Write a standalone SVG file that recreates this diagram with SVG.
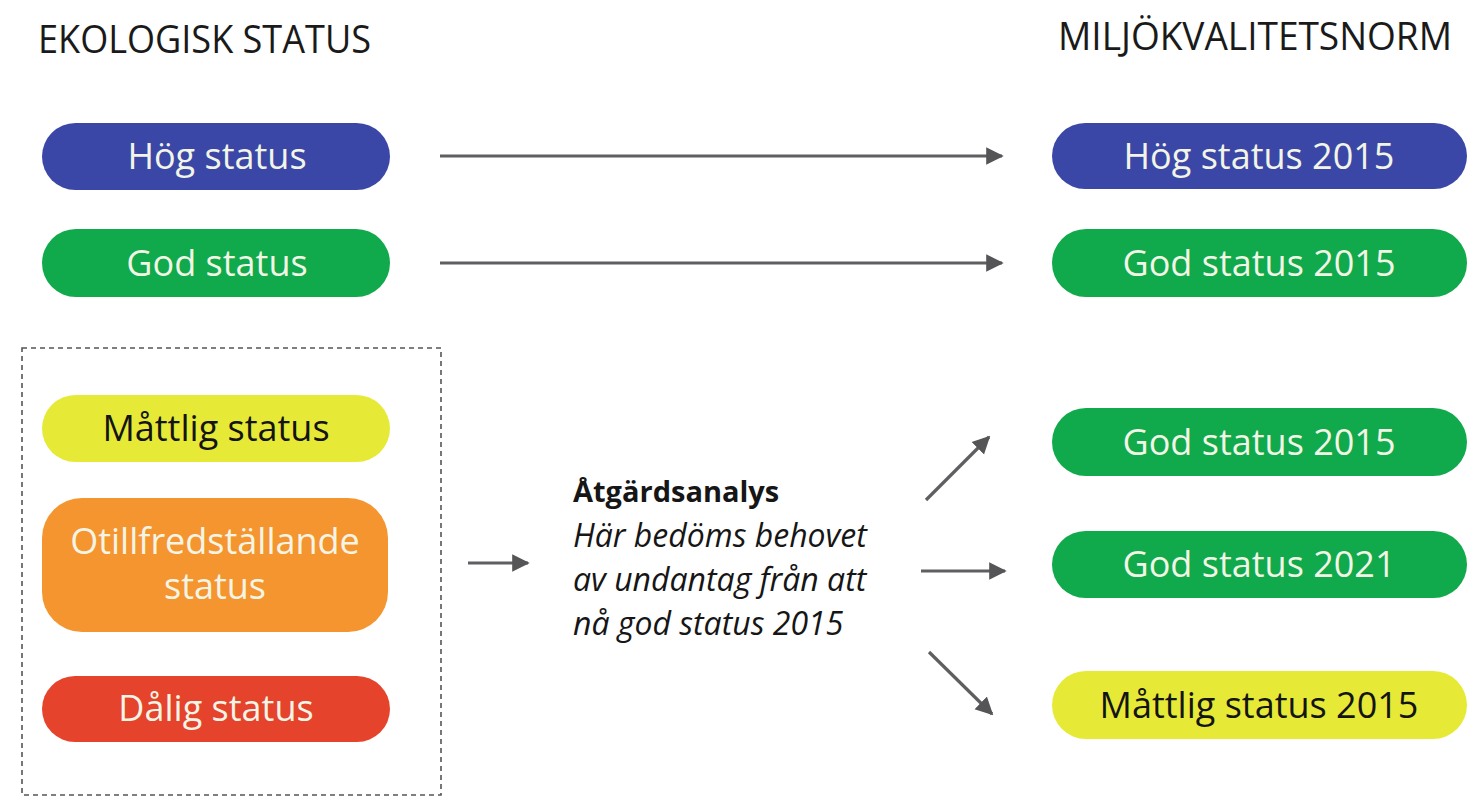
<svg xmlns="http://www.w3.org/2000/svg" width="1470" height="809" viewBox="0 0 1470 809">
<style>
.hdr{font-family:"Open Sans","Liberation Sans",sans-serif;font-size:38px;fill:#1a1a1a}
.pl{font-family:"Open Sans","Liberation Sans",sans-serif;font-size:36px;text-anchor:middle}
.w{fill:#f2f5e6}
.k{fill:#141414}
.blue{fill:#3b47a6}
.green{fill:#10a94b}
.yellow{fill:#e6ea37}
.orange{fill:#f5952f}
.red{fill:#e5432b}
.conn line{stroke:#5f5f62;stroke-width:3.2}
.body{font-family:"Open Sans","Liberation Sans",sans-serif;font-size:29px;fill:#161616}
.it{font-size:32px;font-style:italic}
</style>
<defs>
<marker id="ah" viewBox="0 0 10 10" refX="9" refY="5" markerWidth="5.5" markerHeight="8" orient="auto" markerUnits="strokeWidth">
<path d="M0,0 L10,5 L0,10 Z" fill="#555558"/>
</marker>
</defs>
<rect width="1470" height="809" fill="#ffffff"/>
<text class="hdr" x="38" y="53" textLength="333" lengthAdjust="spacingAndGlyphs">EKOLOGISK STATUS</text>
<text class="hdr" x="1058" y="50" textLength="394" lengthAdjust="spacingAndGlyphs">MILJÖKVALITETSNORM</text>
<rect id="box" x="22" y="348" width="419" height="447" fill="none" stroke="#555" stroke-width="1.6" stroke-dasharray="5,4"/>
<g id="hog-left"><rect class="blue" x="42" y="123" width="348" height="67" rx="33.5"/><text class="pl w" x="217" y="169">Hög status</text></g>
<g id="god-left"><rect class="green" x="42" y="229" width="348" height="68" rx="34"/><text class="pl w" x="217" y="276">God status</text></g>
<g id="mattlig-left"><rect class="yellow" x="42" y="395" width="348" height="67" rx="33.5"/><text class="pl k" x="216" y="441">Måttlig status</text></g>
<g id="otillfreds-left"><rect class="orange" x="42" y="498" width="346" height="134" rx="40"/><text class="pl w" x="215" y="554">Otillfredställande</text><text class="pl w" x="215" y="599">status</text></g>
<g id="dalig-left"><rect class="red" x="42" y="676" width="348" height="66" rx="33"/><text class="pl w" x="216" y="721">Dålig status</text></g>
<g id="hog-right"><rect class="blue" x="1052" y="123" width="415" height="66" rx="33"/><text class="pl w" x="1259" y="169">Hög status 2015</text></g>
<g id="god-right"><rect class="green" x="1052" y="229" width="415" height="68" rx="34"/><text class="pl w" x="1259" y="276">God status 2015</text></g>
<g id="god2015"><rect class="green" x="1052" y="408" width="415" height="68" rx="34"/><text class="pl w" x="1259" y="455">God status 2015</text></g>
<g id="god2021"><rect class="green" x="1052" y="531" width="415" height="67" rx="33.5"/><text class="pl w" x="1259" y="577">God status 2021</text></g>
<g id="mattlig2015"><rect class="yellow" x="1052" y="671" width="415" height="68" rx="34"/><text class="pl k" x="1259" y="718">Måttlig status 2015</text></g>
<g id="atgard">
<text class="body" x="573" y="502" font-weight="bold">Åtgärdsanalys</text>
<text class="body it"><tspan x="573" y="547">Här bedöms behovet</tspan><tspan x="573" y="591">av undantag från att</tspan><tspan x="573" y="635">nå god status 2015</tspan></text>
</g>
<g class="conn" id="connectors">
<line x1="440" y1="156" x2="1002" y2="156" marker-end="url(#ah)"/>
<line x1="440" y1="263" x2="1002" y2="263" marker-end="url(#ah)"/>
<line x1="468" y1="563" x2="528" y2="563" marker-end="url(#ah)"/>
<line x1="926" y1="500" x2="989" y2="437" marker-end="url(#ah)"/>
<line x1="921" y1="571" x2="1005" y2="571" marker-end="url(#ah)"/>
<line x1="929" y1="652" x2="992" y2="714" marker-end="url(#ah)"/>
</g>
</svg>
